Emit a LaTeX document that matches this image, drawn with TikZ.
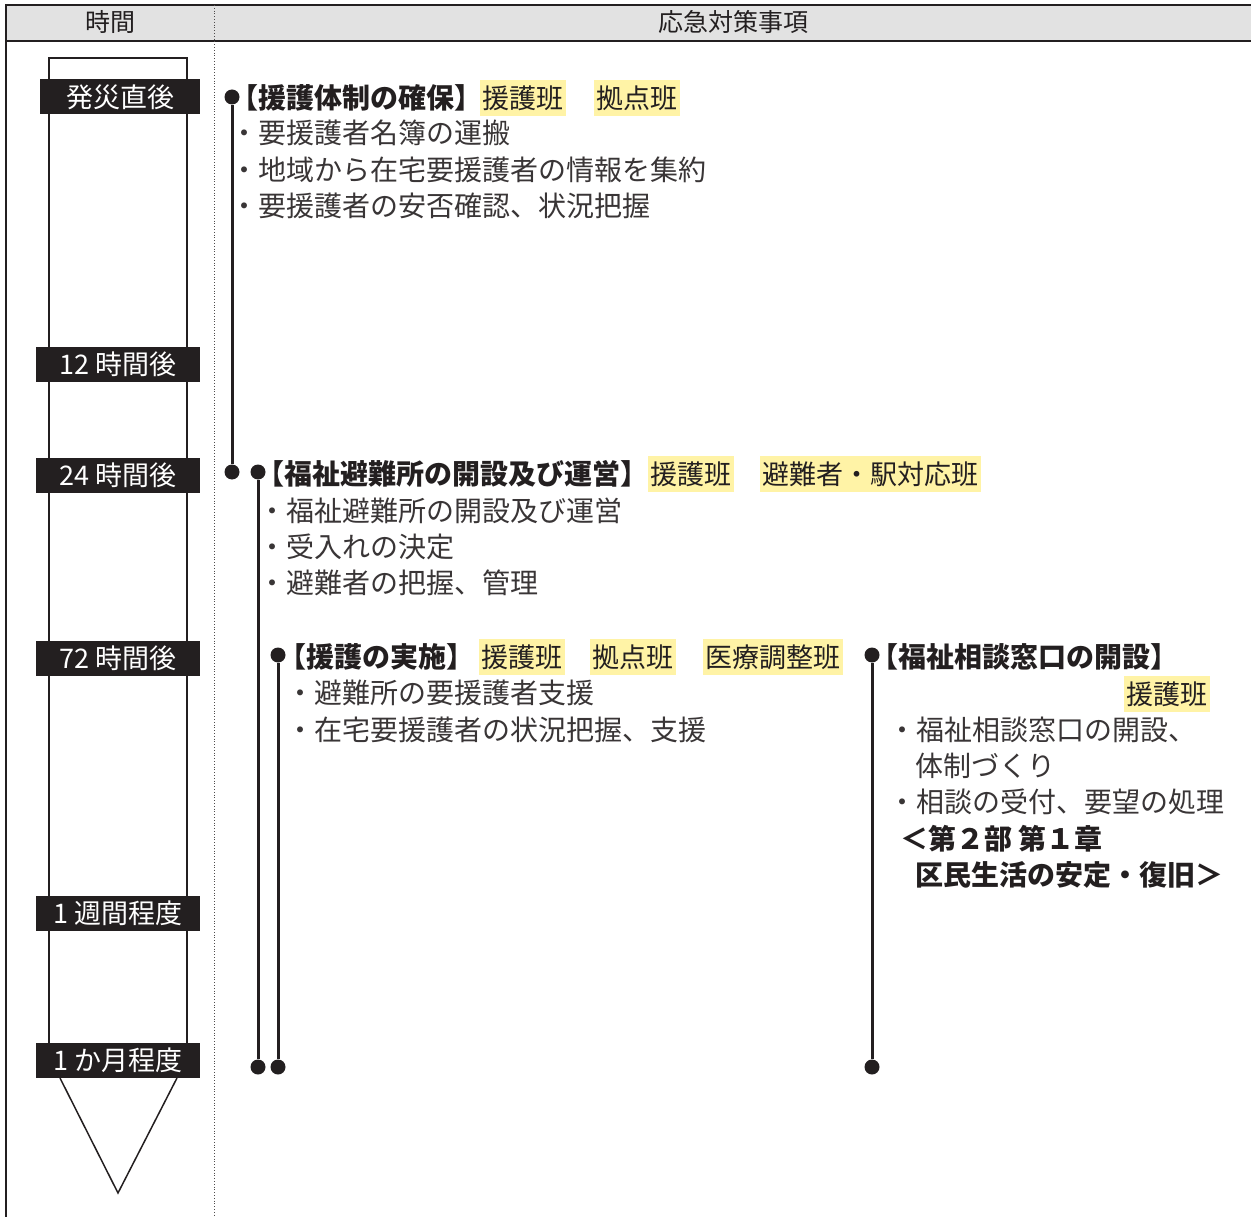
\documentclass[tikz,border=0pt]{standalone}
\usepackage{fontspec}
\newfontfamily\jp{Noto Sans CJK JP}
\definecolor{hl}{HTML}{FFF3A6}
\definecolor{hdr}{HTML}{E2E2E2}
\definecolor{ink}{HTML}{231F20}
\begin{document}
\begin{tikzpicture}[x=1pt,y=-1pt,
  every node/.style={font=\jp\fontsize{27}{30}\selectfont, inner sep=0pt, text=ink},
  body/.style={anchor=west, text=ink!90, font=\jp\fontsize{28}{30}\selectfont},
  head/.style={anchor=west, font=\jp\bfseries\fontsize{28}{30}\selectfont},
  hlbox/.style={fill=hl, anchor=west, minimum height=36, inner xsep=2.5},
  tlabel/.style={fill=ink, text=white, minimum width=164, minimum height=35},
  hdrtext/.style={font=\jp\fontsize{25}{28}\selectfont},
  dot/.style={circle, fill=ink, minimum size=15, inner sep=0pt},
  vline/.style={line width=3pt, ink},
]
\useasboundingbox (0,0) rectangle (1251,1217);
% header
\fill[hdr] (6,5) rectangle (1251,41);
\draw[line width=2pt, ink] (1251,5) -- (6,5) -- (6,1217);
\draw[line width=1.5pt, ink] (6,41) -- (1251,41);
\draw[dotted, line width=0.8pt, ink!80] (214,5) -- (214,1217);
\node[hdrtext] (hd1) at (110,22) {時間};
\node[hdrtext] (hd2) at (733,22) {応急対策事項};

% timeline arrow
\draw[line width=1.5pt, ink] (49,1060) -- (49,58) -- (187,58) -- (187,1060);
\draw[line width=1.5pt, ink] (60,1078) -- (118,1193) -- (177,1078);

% time labels
\node[tlabel, minimum width=160] (L1) at (120,97) {発災直後};
\node[tlabel] (L2) at (118,364) {12 時間後};
\node[tlabel] (L3) at (118,475) {24 時間後};
\node[tlabel] (L4) at (118,658) {72 時間後};
\node[tlabel] (L5) at (118,913) {1 週間程度};
\node[tlabel] (L6) at (118,1060) {1 か月程度};

% group 1
\node[dot] (a1) at (232,97) {};
\node[dot] (a2) at (232,472) {};
\draw[vline] (a1) -- (a2);
\node[head] (g1h) at (230,98) {【援護体制の確保】};
\node[hlbox] (g1k1) at (480,98) {援護班};
\node[hlbox] (g1k2) at (594,98) {拠点班};
\node[body] (g1b1) at (230,133) {・要援護者名簿の運搬};
\node[body] (g1b2) at (230,170) {・地域から在宅要援護者の情報を集約};
\node[body] (g1b3) at (230,206) {・要援護者の安否確認、状況把握};

% group 2
\node[dot] (b1) at (258,472) {};
\node[dot] (b2) at (258,1067) {};
\draw[vline] (b1) -- (b2);
\node[head] (g2h) at (256,474) {【福祉避難所の開設及び運営】};
\node[hlbox] (g2k1) at (648,474) {援護班};
\node[hlbox] (g2k2) at (760,474) {避難者・駅対応班};
\node[body] (g2b1) at (258,511) {・福祉避難所の開設及び運営};
\node[body] (g2b2) at (258,547) {・受入れの決定};
\node[body] (g2b3) at (258,583) {・避難者の把握、管理};

% group 3
\node[dot] (c1) at (278,655) {};
\node[dot] (c2) at (278,1067) {};
\draw[vline] (c1) -- (c2);
\node[head] (g3h) at (278,657) {【援護の実施】};
\node[hlbox] (g3k1) at (479,657) {援護班};
\node[hlbox] (g3k2) at (590,657) {拠点班};
\node[hlbox] (g3k3) at (703,657) {医療調整班};
\node[body] (g3b1) at (286,693) {・避難所の要援護者支援};
\node[body] (g3b2) at (286,730) {・在宅要援護者の状況把握、支援};

% group 4
\node[dot] (d1) at (872,655) {};
\node[dot] (d2) at (872,1067) {};
\draw[vline] (d1) -- (d2);
\node[head] (g4h) at (870,657) {【福祉相談窓口の開設】};
\node[hlbox] (g4k1) at (1124,694) {援護班};
\node[body] (g4b1) at (888,730) {・福祉相談窓口の開設、};
\node[body] (g4b2) at (915,766) {体制づくり};
\node[body] (g4b3) at (888,802) {・相談の受付、要望の処理};
\node[head] (g4r1) at (900,839) {＜第２部 第１章};
\node[head] (g4r2) at (915,875) {区民生活の安定・復旧＞};
\end{tikzpicture}
\end{document}
